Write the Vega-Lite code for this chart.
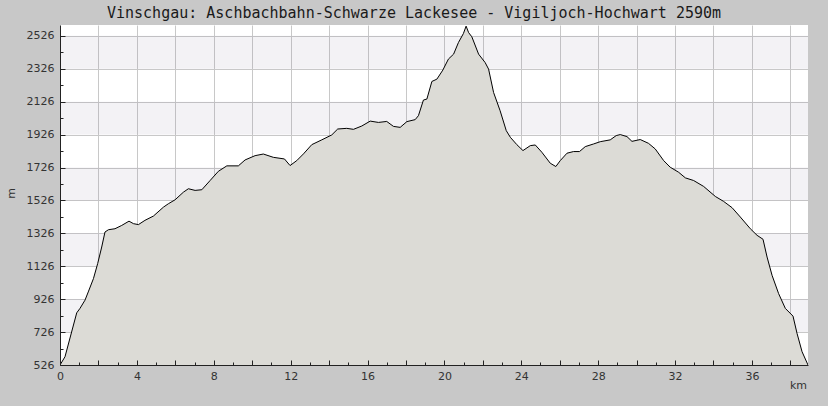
{
  "$schema": "https://vega.github.io/schema/vega-lite/v6.json",
  "description": "Elevation profile Vinschgau: Aschbachbahn-Schwarze Lackesee - Vigiljoch-Hochwart",
  "autosize": "none",
  "width": 748,
  "height": 340,
  "padding": {"left": 60, "top": 25, "right": 20, "bottom": 41},
  "background": "#c8c8c8",
  "title": {
    "text": "Vinschgau: Aschbachbahn-Schwarze Lackesee - Vigiljoch-Hochwart 2590m",
    "font": "DejaVu Sans Mono",
    "fontSize": 15,
    "fontWeight": "normal",
    "color": "#1a1a1a",
    "anchor": "middle",
    "dx": -20,
    "offset": 4
  },
  "datasets": {
    "bands": [
      {"lo": 726, "hi": 926},
      {"lo": 1126, "hi": 1326},
      {"lo": 1526, "hi": 1726},
      {"lo": 1926, "hi": 2126},
      {"lo": 2326, "hi": 2526}
    ],
    "profile": [
      {"km": 0, "m": 526},
      {"km": 0.26, "m": 576},
      {"km": 0.87, "m": 843},
      {"km": 1.04, "m": 870},
      {"km": 1.3, "m": 920},
      {"km": 1.47, "m": 970},
      {"km": 1.74, "m": 1051},
      {"km": 1.96, "m": 1142},
      {"km": 2.17, "m": 1243},
      {"km": 2.34, "m": 1334},
      {"km": 2.52, "m": 1348},
      {"km": 2.86, "m": 1354},
      {"km": 3.21, "m": 1374},
      {"km": 3.59, "m": 1400},
      {"km": 3.82, "m": 1385},
      {"km": 4.08, "m": 1379},
      {"km": 4.42, "m": 1405},
      {"km": 4.86, "m": 1431},
      {"km": 5.38, "m": 1485},
      {"km": 5.64, "m": 1506},
      {"km": 5.99, "m": 1530},
      {"km": 6.42, "m": 1576},
      {"km": 6.68, "m": 1597},
      {"km": 7.03, "m": 1587},
      {"km": 7.38, "m": 1591},
      {"km": 7.81, "m": 1647},
      {"km": 8.24, "m": 1703},
      {"km": 8.68, "m": 1736},
      {"km": 9.28, "m": 1736},
      {"km": 9.63, "m": 1772},
      {"km": 10.15, "m": 1798},
      {"km": 10.58, "m": 1808},
      {"km": 11.1, "m": 1788},
      {"km": 11.68, "m": 1778},
      {"km": 11.97, "m": 1738},
      {"km": 12.32, "m": 1768},
      {"km": 12.67, "m": 1809},
      {"km": 13.1, "m": 1865},
      {"km": 13.62, "m": 1894},
      {"km": 14.14, "m": 1924},
      {"km": 14.45, "m": 1960},
      {"km": 14.92, "m": 1964},
      {"km": 15.27, "m": 1958},
      {"km": 15.7, "m": 1978},
      {"km": 16.14, "m": 2008},
      {"km": 16.57, "m": 2000},
      {"km": 17.0, "m": 2006},
      {"km": 17.35, "m": 1976},
      {"km": 17.7, "m": 1970},
      {"km": 18.05, "m": 2005},
      {"km": 18.48, "m": 2017},
      {"km": 18.65, "m": 2041},
      {"km": 18.91, "m": 2136},
      {"km": 19.09, "m": 2142},
      {"km": 19.35, "m": 2249},
      {"km": 19.61, "m": 2263},
      {"km": 19.92, "m": 2318},
      {"km": 20.21, "m": 2385},
      {"km": 20.48, "m": 2415},
      {"km": 20.73, "m": 2485},
      {"km": 20.99, "m": 2540},
      {"km": 21.13, "m": 2585},
      {"km": 21.26, "m": 2546},
      {"km": 21.43, "m": 2520},
      {"km": 21.78, "m": 2415},
      {"km": 22.12, "m": 2364},
      {"km": 22.3, "m": 2324},
      {"km": 22.56, "m": 2182},
      {"km": 22.9, "m": 2071},
      {"km": 23.22, "m": 1950},
      {"km": 23.43, "m": 1910},
      {"km": 23.77, "m": 1865},
      {"km": 24.09, "m": 1829},
      {"km": 24.47, "m": 1859},
      {"km": 24.73, "m": 1863},
      {"km": 25.07, "m": 1819},
      {"km": 25.51, "m": 1752},
      {"km": 25.8, "m": 1732},
      {"km": 26.03, "m": 1768},
      {"km": 26.38, "m": 1813},
      {"km": 26.72, "m": 1823},
      {"km": 27.03, "m": 1823},
      {"km": 27.33, "m": 1853},
      {"km": 27.76, "m": 1869},
      {"km": 28.11, "m": 1883},
      {"km": 28.63, "m": 1894},
      {"km": 28.94, "m": 1920},
      {"km": 29.15, "m": 1926},
      {"km": 29.5, "m": 1914},
      {"km": 29.76, "m": 1885},
      {"km": 30.19, "m": 1896},
      {"km": 30.62, "m": 1873},
      {"km": 30.97, "m": 1839},
      {"km": 31.41, "m": 1768},
      {"km": 31.75, "m": 1728},
      {"km": 32.19, "m": 1697},
      {"km": 32.54, "m": 1663},
      {"km": 32.97, "m": 1647},
      {"km": 33.49, "m": 1611},
      {"km": 34.1, "m": 1550},
      {"km": 34.53, "m": 1520},
      {"km": 34.97, "m": 1482},
      {"km": 35.4, "m": 1425},
      {"km": 35.92, "m": 1354},
      {"km": 36.27, "m": 1314},
      {"km": 36.58, "m": 1290},
      {"km": 36.79, "m": 1182},
      {"km": 37.05, "m": 1071},
      {"km": 37.39, "m": 960},
      {"km": 37.74, "m": 870},
      {"km": 38.14, "m": 823},
      {"km": 38.35, "m": 718},
      {"km": 38.61, "m": 607},
      {"km": 38.92, "m": 526}
    ]
  },
  "layer": [
    {
      "data": {"name": "bands"},
      "mark": {"type": "rect", "fill": "rgb(135,125,155)", "opacity": 0.1},
      "encoding": {
        "y": {"field": "lo", "type": "quantitative", "axis": null},
        "y2": {"field": "hi"}
      }
    },
    {
      "data": {"name": "profile"},
      "mark": {"type": "area", "color": "#dcdbd6", "opacity": 1, "clip": true},
      "encoding": {
        "x": {
          "field": "km",
          "type": "quantitative",
          "scale": {"domain": [0, 38.92], "nice": false, "zero": false},
          "axis": {
            "orient": "bottom",
            "title": null,
            "values": [0, 2, 4, 6, 8, 10, 12, 14, 16, 18, 20, 22, 24, 26, 28, 30, 32, 34, 36, 38],
            "labels": false,
            "ticks": false,
            "domain": false,
            "grid": true,
            "zindex": 0
          }
        },
        "y": {
          "field": "m",
          "type": "quantitative",
          "scale": {"domain": [526, 2592], "nice": false, "zero": false},
          "axis": {
            "orient": "left",
            "title": null,
            "values": [526, 726, 926, 1126, 1326, 1526, 1726, 1926, 2126, 2326, 2526],
            "labels": false,
            "ticks": false,
            "domain": false,
            "grid": true,
            "zindex": 0
          }
        }
      }
    },
    {
      "data": {"name": "profile"},
      "mark": {"type": "line", "color": "#000000", "strokeWidth": 1, "clip": true},
      "encoding": {
        "x": {
          "field": "km",
          "type": "quantitative",
          "axis": {
            "orient": "bottom",
            "title": "km",
            "grid": false,
            "zindex": 1,
            "values": [0, 1, 2, 3, 4, 5, 6, 7, 8, 9, 10, 11, 12, 13, 14, 15, 16, 17, 18, 19, 20, 21, 22, 23, 24, 25, 26, 27, 28, 29, 30, 31, 32, 33, 34, 35, 36, 37, 38],
            "labelExpr": "datum.value % 4 == 0 ? datum.label : ''",
            "labelOverlap": false,
            "labelPadding": 10,
            "tickSize": {"condition": {"test": "datum.value % 2 == 0", "value": -5}, "value": -3},
            "titleX": 738,
            "titleY": 20,
            "titleAlign": "center",
            "titleBaseline": "middle",
            "titleAnchor": null
          }
        },
        "y": {
          "field": "m",
          "type": "quantitative",
          "axis": {
            "orient": "left",
            "title": "m",
            "grid": false,
            "zindex": 1,
            "values": [526, 626, 726, 826, 926, 1026, 1126, 1226, 1326, 1426, 1526, 1626, 1726, 1826, 1926, 2026, 2126, 2226, 2326, 2426, 2526],
            "labelExpr": "(datum.value - 526) % 200 == 0 ? datum.label : ''",
            "labelOverlap": false,
            "labelPadding": 11,
            "tickSize": {"condition": {"test": "(datum.value - 526) % 200 == 0", "value": -5}, "value": -3},
            "titleX": -49,
            "titleY": 168,
            "titleAngle": -90,
            "titleAlign": "center",
            "titleBaseline": "middle"
          }
        }
      }
    }
  ],
  "resolve": {"axis": {"x": "independent", "y": "independent"}},
  "config": {
    "view": {"fill": "#ffffff", "stroke": null},
    "axis": {
      "domainColor": "#222222",
      "domainWidth": 1,
      "tickColor": "#222222",
      "gridColor": "#c8c8c8",
      "gridWidth": 1,
      "labelFont": "DejaVu Sans",
      "labelFontSize": 11,
      "labelColor": "#333333",
      "titleFont": "DejaVu Sans",
      "titleFontSize": 11,
      "titleFontWeight": "normal",
      "titleColor": "#333333",
      "format": "d",
      "labelFlush": false,
      "labelOverlap": false
    }
  }
}
